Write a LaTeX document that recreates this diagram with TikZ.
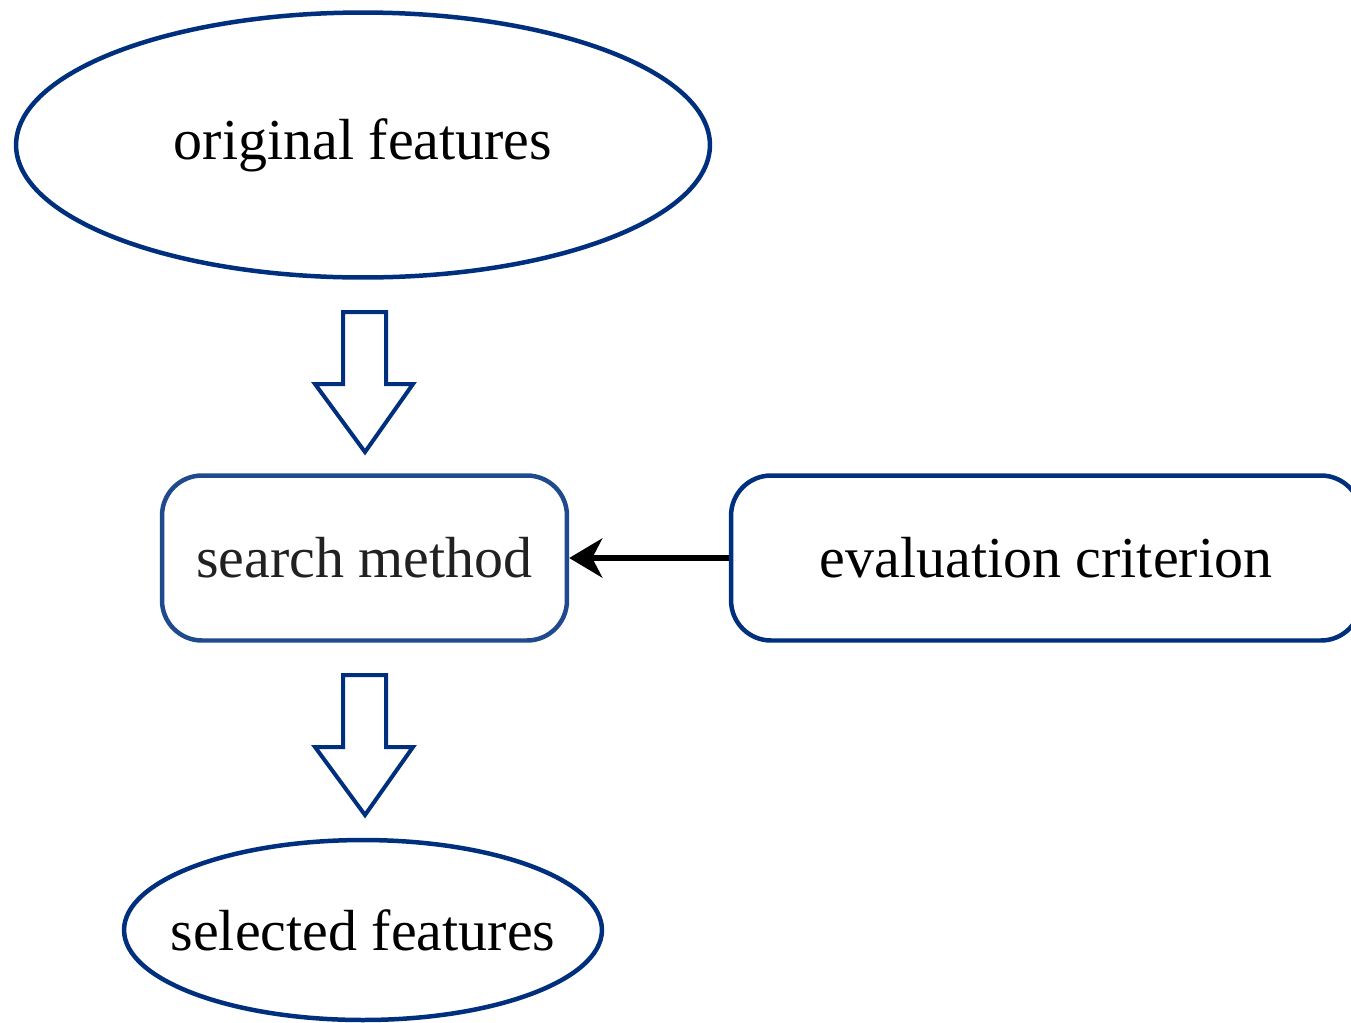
\documentclass[tikz,border=0pt]{standalone}
\usepackage{fontspec}
\setmainfont{Liberation Serif}
\usetikzlibrary{shapes.geometric,arrows.meta}

\definecolor{navy}{RGB}{0,48,125}
\definecolor{lightnavy}{RGB}{31,74,140}

% keeps the label from widening its shape
\newcommand\flatlabel[1]{\makebox[0pt]{#1}}

\tikzset{
  featurenode/.style = {ellipse, draw=navy, line width=0.09cm, inner sep=0pt},
  stagebox/.style = {rectangle, rounded corners=0.8cm, draw=navy, line width=0.09cm,
                     minimum height=3.3cm, inner sep=0pt},
  blockarrow/.style = {draw=navy, line width=0.08cm, fill=white, line join=miter}
}

\begin{document}
\begin{tikzpicture}[x=0.02cm, y=-0.02cm, font=\fontsize{33}{40}\selectfont]

  \useasboundingbox (0,0) rectangle (1351,1022);

  \node[featurenode, minimum width=13.88cm, minimum height=5.3cm] (orig) at (363,145) {\flatlabel{original features}};
  \node[stagebox, draw=lightnavy, text=black!87, minimum width=8.1cm] (search) at (364.5,558) {\flatlabel{search method}};
  \node[stagebox, minimum width=12.6cm] (eval) at (1046,558) {\flatlabel{evaluation criterion}};
  \node[featurenode, minimum width=9.56cm, minimum height=3.6cm] (sel) at (363,930) {\flatlabel{selected features}};

  % the two hollow block arrows
  \foreach \top in {312,675}
  {
    \pgfmathtruncatemacro\neck{\top+72}
    \pgfmathtruncatemacro\tip{\top+140}
    \draw[blockarrow] (343,\top) -- (386,\top) -- (386,\neck) -- (413,\neck)
      -- (365,\tip) -- (315,\neck) -- (343,\neck) -- cycle;
  }

  \draw[-{Stealth[length=0.66cm, width=0.78cm, inset=0.2cm]}, line width=0.11cm] (eval) -- (search);

\end{tikzpicture}
\end{document}
